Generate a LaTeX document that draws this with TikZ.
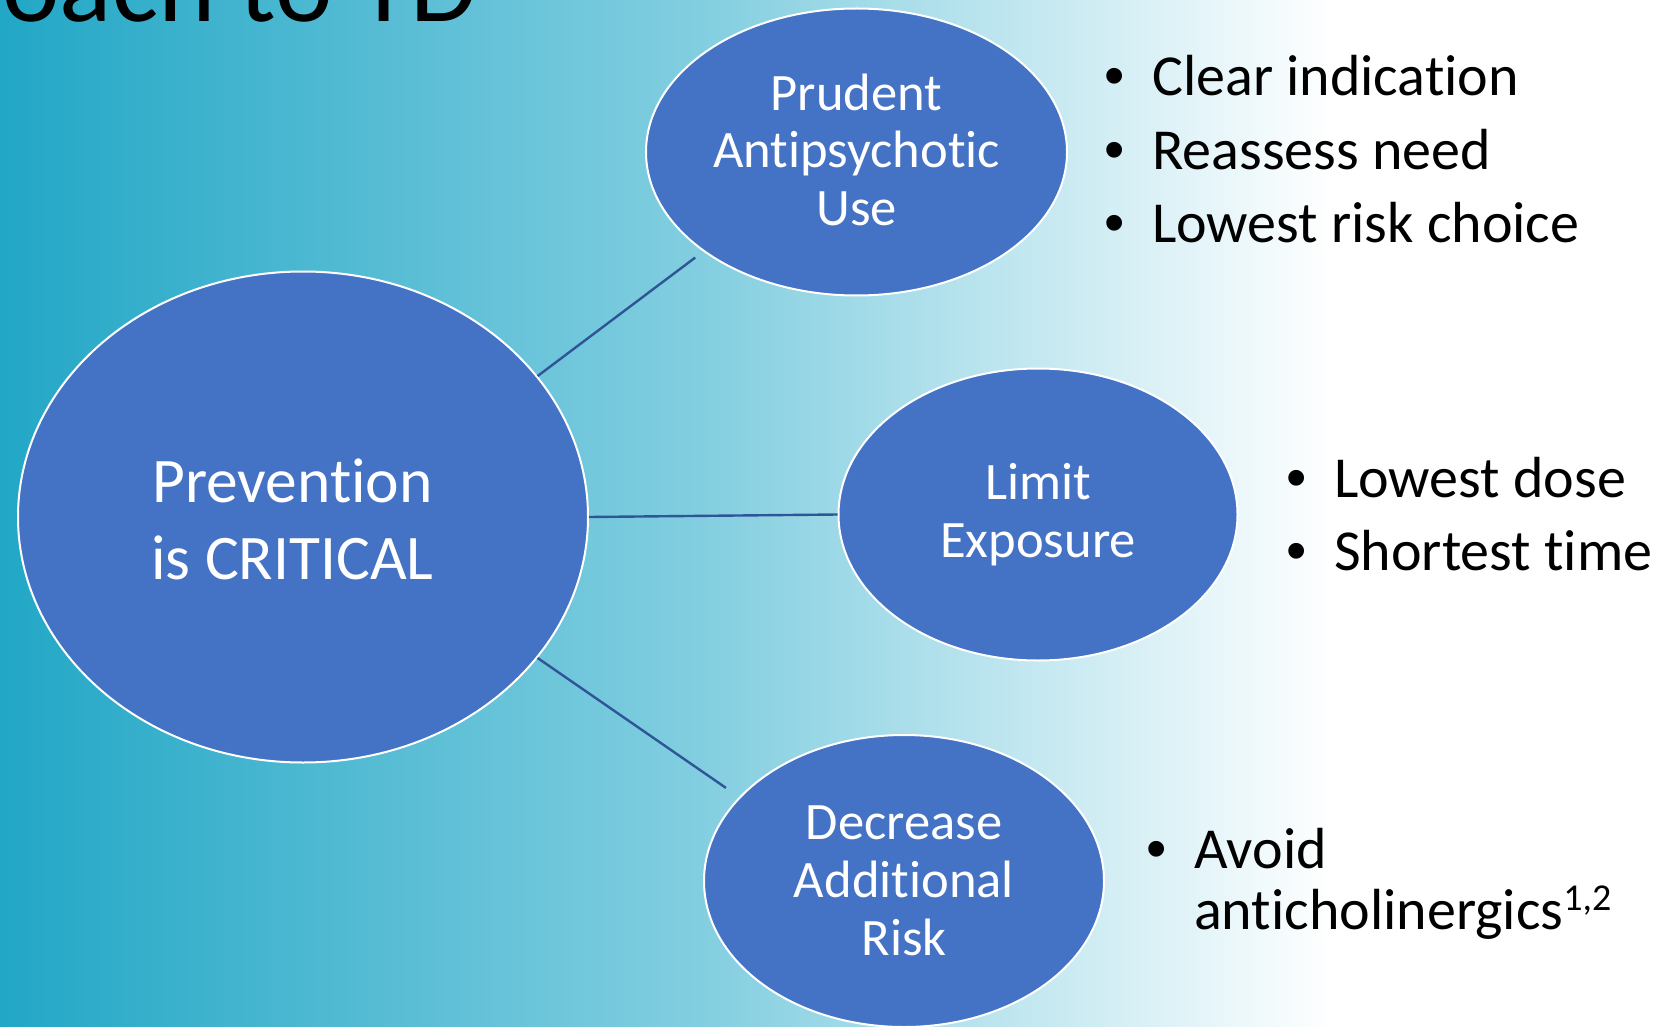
\documentclass[tikz,border=0pt]{standalone}
\usepackage{fontspec}
\setmainfont{Carlito}[Ligatures=NoCommon]
\newfontfamily\dotfont{Liberation Sans}
\usepackage{tikz}
\usetikzlibrary{shapes.geometric}
\definecolor{tdteal}{HTML}{22A7C6}
\definecolor{tdmist}{HTML}{82CEE0}
\definecolor{tdblue}{HTML}{4472C4}
\definecolor{tdline}{HTML}{2F5597}

\newcommand{\bul}[1]{\makebox[48pt][l]{\dotfont\textbullet}#1}
\newcommand{\refs}[1]{\raisebox{19pt}{\fontsize{38}{38}\selectfont #1}}

\begin{document}
\begin{tikzpicture}[
  x=1pt, y=-1pt,
  hub/.style={
    ellipse, draw=white, line width=2pt, fill=tdblue, text=white,
    inner sep=0pt, align=center,
    minimum width=570pt, minimum height=491pt,
    font=\fontsize{63.5}{77}\selectfont},
  spoke/.style={
    ellipse, draw=white, line width=2pt, fill=tdblue, text=white,
    inner sep=0pt, align=center,
    minimum width=400pt, minimum height=290pt,
    font=\fontsize{52.6}{57.7}\selectfont},
  link/.style={draw=tdline, line width=2.4pt},
  pt/.style={anchor=base west, inner sep=0pt, align=left,
    font=\fontsize{58}{61}\selectfont},
]
\useasboundingbox (0,0) rectangle (1660,1027);
\clip (0,0) rectangle (1660,1027);

% ================= backdrop ========================================
\fill[left color=tdteal, right color=tdmist] (0,0) rectangle (700,1027);
\fill[left color=tdmist, right color=white] (700,0) rectangle (1335,1027);
\fill[white] (1335,0) rectangle (1660,1027);

% title, mostly off the top edge
\node[anchor=base east, inner sep=0pt, font=\fontsize{109}{112}\selectfont]
  (title) at (478,22) {Approach to TD};

% ================= ellipses ========================================
\node[hub] (prev) at (303,517)
  {\rule{0pt}{48pt}Prevention\hspace*{21pt}\\is CRITICAL\hspace*{21pt}};
\node[spoke, minimum width=421pt, minimum height=287pt] (use) at (856.5,152)
  {Prudent\\Antipsychotic\\Use\rule[-5pt]{0pt}{5pt}};
\node[spoke, minimum width=399pt, minimum height=292pt] (expo) at (1038,514.5)
  {Limit\\Exposure};
\node[spoke, minimum width=400pt, minimum height=292pt] (risk) at (904,881)
  {Decrease\\Additional\\Risk};

% ================= connectors ======================================
\draw[link, shorten >=10pt] (prev.31.5) -- (use.213);
\draw[link] (prev.east) -- (expo.west);
\draw[link, shorten >=16pt] (prev.-31) -- (risk.153.7);

% ================= bullet points ===================================
\node[pt] (use1) at (1104,96)  {\bul{Clear indication}};
\node[pt] (use2) at (1104,170) {\bul{Reassess need}};
\node[pt] (use3) at (1104,243) {\bul{Lowest risk choice}};

\node[pt] (exp1) at (1286,497) {\bul{Lowest dose}};
\node[pt] (exp2) at (1286,570) {\bul{Shortest time}};

\node[pt] (risk1) at (1146,929)
  {\bul{Avoid}\\\hspace*{48pt}anticholinergics\refs{1,2}};

\end{tikzpicture}
\end{document}
